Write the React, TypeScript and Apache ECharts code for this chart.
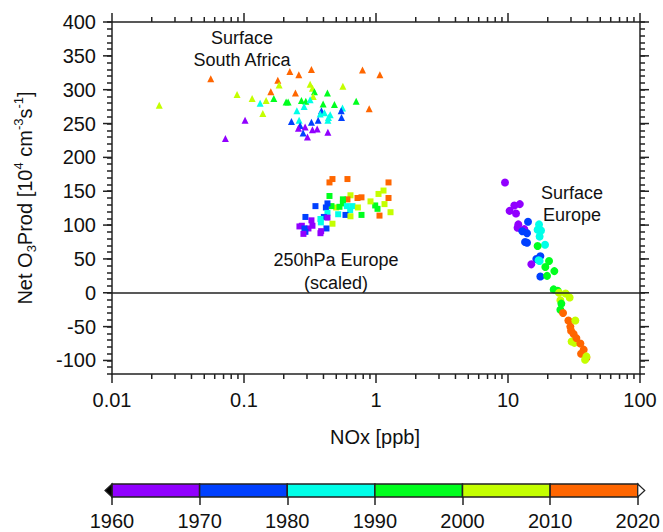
import React, { useEffect, useRef } from 'react';
import * as echarts from 'echarts';

// ---- Data -----------------------------------------------------------------
// decade start year -> colour
const decadeYears = [1960, 1970, 1980, 1990, 2000, 2010];
const decadeColors = ['#9100ff', '#0040ff', '#00ffe8', '#00ff1e', '#c4ff00', '#ff6600'];
const colorbarTicks = [1960, 1970, 1980, 1990, 2000, 2010, 2020];

const X_MIN = 0.01;
const X_MAX = 100;
const Y_MIN = -120;
const Y_MAX = 400;
const xMinorTicks = [
  0.02, 0.03, 0.04, 0.05, 0.06, 0.07, 0.08, 0.09,
  0.2, 0.3, 0.4, 0.5, 0.6, 0.7, 0.8, 0.9,
  2, 3, 4, 5, 6, 7, 8, 9,
  20, 30, 40, 50, 60, 70, 80, 90,
];
const yMajorTicks = [-100, -50, 0, 50, 100, 150, 200, 250, 300, 350, 400];

// [NOx ppb, net O3 production, decade]
const surfaceSouthAfrica = [
  [0.056, 316, 2010], [0.0228, 277, 2000], [0.0723, 228, 1960], [0.1019, 255, 1960],
  [0.0886, 293, 2000], [0.1152, 287, 2000], [0.1325, 280, 1980], [0.1471, 284, 2000],
  [0.1682, 287, 1990], [0.1389, 265, 2000], [0.1596, 297, 2010], [0.1804, 314, 2010],
  [0.1846, 307, 2000], [0.2225, 327, 2010], [0.2603, 322, 2010], [0.3243, 330, 2010],
  [0.2453, 295, 2010], [0.317, 308, 2000], [0.3301, 302, 2000], [0.3418, 297, 1990],
  [0.3342, 290, 2000], [0.4288, 295, 1990], [0.5612, 305, 2000], [0.7903, 329, 2010],
  [1.0705, 322, 2010], [0.7079, 283, 1990], [0.8879, 272, 2010], [0.2085, 282, 1990],
  [0.2159, 282, 1990], [0.2723, 284, 1990], [0.2941, 283, 1990], [0.317, 285, 1980],
  [0.3978, 279, 1990], [0.4845, 278, 1990], [0.2855, 275, 1980], [0.2514, 269, 1980],
  [0.3862, 269, 1970], [0.3776, 264, 1980], [0.407, 266, 1980], [0.4495, 263, 1980],
  [0.5572, 273, 1980], [0.5448, 269, 1970], [0.5476, 259, 1970], [0.2288, 253, 1970],
  [0.2616, 255, 1980], [0.3243, 252, 1970], [0.3646, 255, 1970], [0.4318, 255, 1980],
  [0.4364, 259, 1980], [0.2663, 247, 1970], [0.2585, 243, 1960], [0.2905, 245, 1960],
  [0.3301, 241, 1960], [0.3583, 242, 1960], [0.2806, 236, 1970], [0.3025, 230, 1960],
  [0.4318, 237, 1960],
];

const europe250hPa = [
  [0.4679, 168, 2010], [0.4442, 163, 2010], [0.6079, 168, 2010], [1.2441, 163, 2010],
  [1.14, 151, 2000], [1.0447, 146, 2000], [1.2441, 140, 2010], [1.1598, 131, 2000],
  [1.2882, 119, 2000], [1.0629, 114, 2010], [1.0266, 124, 1990], [0.9861, 129, 1990],
  [0.9085, 135, 2000], [0.7764, 141, 2010], [0.7243, 140, 2010], [0.6406, 144, 2000],
  [0.6079, 138, 2010], [0.5612, 138, 1990], [0.5612, 132, 1990], [0.4442, 143, 1990],
  [0.6017, 128, 1980], [0.6633, 128, 1980], [0.6373, 122, 1980], [0.7293, 126, 2000],
  [0.4991, 126, 2000], [0.5288, 127, 1990], [0.4598, 128, 1990], [0.4171, 126, 1970],
  [0.3478, 128, 1970], [0.4288, 132, 1970], [0.4288, 118, 1980], [0.5169, 116, 1980],
  [0.5873, 115, 1970], [0.6406, 113, 2000], [0.7764, 115, 1990], [0.4027, 112, 1970],
  [0.4288, 111, 1960], [0.3795, 109, 1980], [0.3822, 104, 1980], [0.4679, 102, 2000],
  [0.292, 112, 1970], [0.3243, 107, 1960], [0.3301, 99, 1960], [0.3078, 95, 1960],
  [0.2742, 99, 1960], [0.263, 98, 1960], [0.287, 95, 1970], [0.292, 90, 1970],
  [0.282, 87, 1960], [0.4214, 95, 1970], [0.3842, 91, 1960], [0.3795, 88, 1960],
];

const surfaceEurope = [
  [9.49, 163, 1960], [11.16, 129, 1960], [12.29, 131, 1960], [10.28, 121, 1960],
  [11.5, 117, 1960], [11.97, 101, 1960], [11.82, 96, 1960], [13.29, 94, 1960],
  [14.18, 105, 1970], [12.84, 91, 1970], [13.94, 88, 1970], [13.46, 75, 1970],
  [13.94, 74, 1970], [17.18, 101, 1980], [16.76, 93, 1980], [17.79, 92, 1980],
  [17.36, 83, 1980], [19.08, 71, 1980], [16.76, 69, 1990], [17.58, 54, 1970],
  [16.39, 50, 1970], [17.06, 48, 1980], [17.36, 47, 1980], [20.46, 47, 1990],
  [15.02, 42, 1960], [19.18, 38, 1990], [22.44, 32, 1990], [17.58, 24, 1970],
  [19.76, 25, 1990], [22.17, 5, 1990], [23.78, 3, 1990], [24.37, 0, 2000],
  [27.34, -1, 2000], [29.31, -7, 2000], [24.93, -11, 2000], [25.37, -16, 1990],
  [24.93, -25, 1990], [26.12, -30, 2010], [28.66, -41, 2010], [32.37, -41, 2000],
  [29.67, -50, 2010], [30.03, -56, 2010], [31.42, -61, 2010], [30.35, -72, 2000],
  [31.82, -74, 2000], [32.95, -67, 2010], [35.33, -75, 2010], [37.43, -84, 2010],
  [35.76, -90, 2010], [39.24, -96, 2010], [39.24, -94, 2000], [38.35, -99, 2000],
];

// ---- Chart ----------------------------------------------------------------
const FONT = '"Liberation Sans", Arial, Helvetica, sans-serif';
const INK = '#222';

function colorForYear(year: number): string {
  const i = decadeYears.indexOf(year);
  return decadeColors[i >= 0 ? i : 0];
}

export default function App() {
  const ref = useRef<HTMLDivElement>(null);

  useEffect(() => {
    if (!ref.current) return;
    const chart = echarts.init(ref.current, undefined, { renderer: 'svg' });

    const tickData: number[][] = [
      ...xMinorTicks.map((v) => [v, Y_MIN, 0, 5]),
      ...xMinorTicks.map((v) => [v, Y_MAX, 1, 5]),
      ...yMajorTicks.map((v) => [X_MIN, v, 2, 9]),
      ...yMajorTicks.map((v) => [X_MAX, v, 3, 9]),
    ];

    const axisLine = { show: true, onZero: false, lineStyle: { color: INK, width: 1.5 } };
    const minorYAxis = (position: 'left' | 'right', labels: boolean) => ({
      type: 'value',
      gridIndex: 0,
      position,
      min: Y_MIN,
      max: Y_MAX,
      interval: 10,
      axisLine,
      axisTick: { show: true, length: 5, lineStyle: { color: INK, width: 1.5 } },
      splitLine: { show: false },
      axisLabel: {
        show: labels,
        fontFamily: FONT,
        fontSize: 20,
        color: '#111',
        margin: 16,
        formatter: (v: number) => (v % 50 === 0 ? String(v) : ''),
      },
    });
    const logXAxis = (position: 'bottom' | 'top', labels: boolean) => ({
      type: 'log',
      logBase: 10,
      gridIndex: 0,
      position,
      min: X_MIN,
      max: X_MAX,
      axisLine,
      axisTick: { show: true, length: 9, lineStyle: { color: INK, width: 1.5 } },
      splitLine: { show: false },
      minorTick: { show: false },
      axisLabel: {
        show: labels,
        fontFamily: FONT,
        fontSize: 20,
        color: '#111',
        margin: 16,
      },
    });

    const scatter = (name: string, data: number[][], symbol: string, size: number) => ({
      type: 'scatter',
      name,
      xAxisIndex: 0,
      yAxisIndex: 0,
      symbol,
      symbolSize: size,
      data,
      itemStyle: { color: (p: any) => colorForYear(p.value[2]), opacity: 1 },
      z: 3,
    });

    const option: any = {
      animation: false,
      grid: [
        { left: 112, right: 23, top: 22, bottom: 158 },
        { left: 112, right: 24, top: 484, height: 13 },
      ],
      xAxis: [
        logXAxis('bottom', true),
        logXAxis('top', false),
        {
          type: 'value',
          gridIndex: 1,
          position: 'bottom',
          min: 1960,
          max: 2020,
          interval: 10,
          axisLine: { show: false, onZero: false },
          axisTick: { show: true, length: 8, lineStyle: { color: INK, width: 1.5 } },
          splitLine: { show: false },
          axisLabel: {
            fontFamily: FONT,
            fontSize: 20,
            color: '#111',
            margin: 14,
            formatter: (v: number) => String(v),
          },
        },
      ],
      yAxis: [
        minorYAxis('left', true),
        minorYAxis('right', false),
        { type: 'value', gridIndex: 1, min: 0, max: 1, show: false },
      ],
      series: [
        {
          ...scatter('Surface South Africa', surfaceSouthAfrica, 'triangle', 7),
          markLine: {
            silent: true,
            symbol: 'none',
            label: { show: false },
            lineStyle: { color: INK, width: 1.5, type: 'solid' },
            data: [{ yAxis: 0 }],
          },
        },
        scatter('250hPa Europe (scaled)', europe250hPa, 'rect', 6),
        scatter('Surface Europe', surfaceEurope, 'circle', 8),
        {
          type: 'custom',
          name: 'frameTicks',
          xAxisIndex: 0,
          yAxisIndex: 0,
          silent: true,
          clip: false,
          data: tickData,
          encode: { x: 0, y: 1 },
          renderItem: (_params: any, api: any) => {
            const p = api.coord([api.value(0), api.value(1)]);
            const side = api.value(2);
            const len = api.value(3);
            let x2 = p[0];
            let y2 = p[1];
            if (side === 0) y2 += len;
            else if (side === 1) y2 -= len;
            else if (side === 2) x2 -= len;
            else x2 += len;
            return {
              type: 'line',
              shape: { x1: p[0], y1: p[1], x2, y2 },
              style: { stroke: INK, lineWidth: 1.5 },
            };
          },
        },
        {
          type: 'custom',
          name: 'colorbar',
          xAxisIndex: 2,
          yAxisIndex: 2,
          silent: true,
          clip: false,
          data: decadeYears.map((y, i) => [y, colorbarTicks[i + 1], 0, 1]),
          encode: { x: [0, 1], y: [2, 3] },
          renderItem: (params: any, api: any) => {
            const p0 = api.coord([api.value(0), api.value(3)]);
            const p1 = api.coord([api.value(1), api.value(2)]);
            return {
              type: 'rect',
              shape: { x: p0[0], y: p0[1], width: p1[0] - p0[0], height: p1[1] - p0[1] },
              style: { fill: decadeColors[params.dataIndex], stroke: INK, lineWidth: 1.5 },
            };
          },
        },
        {
          type: 'custom',
          name: 'colorbarArrows',
          xAxisIndex: 2,
          yAxisIndex: 2,
          silent: true,
          clip: false,
          data: [
            [colorbarTicks[0], -1, 0, 1],
            [colorbarTicks[colorbarTicks.length - 1], 1, 0, 1],
          ],
          encode: { x: 0, y: [2, 3] },
          renderItem: (_params: any, api: any) => {
            const dir = api.value(1);
            const top = api.coord([api.value(0), 1]);
            const bot = api.coord([api.value(0), 0]);
            const mid = (top[1] + bot[1]) / 2;
            return {
              type: 'polygon',
              shape: {
                points: [
                  [top[0], top[1]],
                  [top[0] + dir * 7, mid],
                  [bot[0], bot[1]],
                ],
              },
              style: { fill: dir < 0 ? '#000' : '#fff', stroke: INK, lineWidth: 1.2 },
            };
          },
        },
      ],
      graphic: [
        {
          type: 'text',
          x: 242,
          y: 49,
          style: {
            text: 'Surface\nSouth Africa',
            font: `18px ${FONT}`,
            fill: '#111',
            align: 'center',
            verticalAlign: 'middle',
            lineHeight: 22,
          },
        },
        {
          type: 'text',
          x: 336,
          y: 271,
          style: {
            text: '250hPa Europe\n(scaled)',
            font: `18px ${FONT}`,
            fill: '#111',
            align: 'center',
            verticalAlign: 'middle',
            lineHeight: 23,
          },
        },
        {
          type: 'text',
          x: 572,
          y: 204,
          style: {
            text: 'Surface\nEurope',
            font: `18px ${FONT}`,
            fill: '#111',
            align: 'center',
            verticalAlign: 'middle',
            lineHeight: 22,
          },
        },
        {
          type: 'text',
          x: 375,
          y: 437,
          style: {
            text: 'NOx [ppb]',
            font: `20px ${FONT}`,
            fill: '#111',
            align: 'center',
            verticalAlign: 'middle',
          },
        },
        {
          type: 'text',
          x: 25,
          y: 198,
          rotation: Math.PI / 2,
          style: {
            text: '{a|Net O}{s|3}{a|Prod [10}{p|4}{a| cm}{p|-3}{a|s}{p|-1}{a|]}',
            align: 'center',
            verticalAlign: 'middle',
            fill: '#111',
            rich: {
              a: { fontFamily: FONT, fontSize: 20, lineHeight: 26, fill: '#111' },
              s: { fontFamily: FONT, fontSize: 13, lineHeight: 14, verticalAlign: 'bottom', fill: '#111' },
              p: { fontFamily: FONT, fontSize: 13, lineHeight: 14, verticalAlign: 'top', fill: '#111' },
            },
          },
        },
      ],
    };

    chart.setOption(option);
    return () => chart.dispose();
  }, []);

  return (
    <div
      ref={ref}
      style={{ position: 'fixed', left: 0, top: 0, width: 663, height: 532, background: '#fff' }}
    />
  );
}
